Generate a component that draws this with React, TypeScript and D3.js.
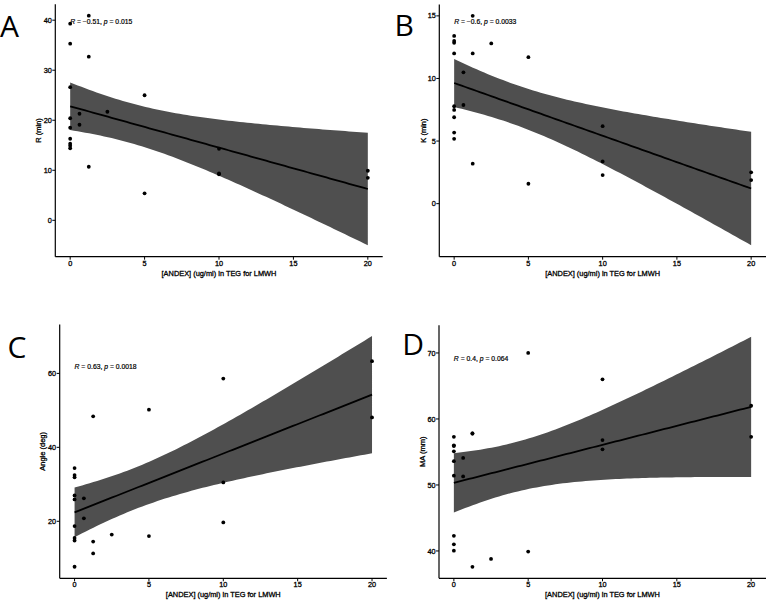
import React from 'react';
import * as d3 from 'd3';

// ---------- data ----------
const xTicks = [0, 5, 10, 15, 20];
const xTitle = '[ANDEX] (ug/ml) in TEG for LMWH';

const andexDose = [0, 0, 0, 0, 0, 0, 0, 0, 0, 0.625, 0.625, 1.25, 1.25, 1.25, 2.5, 5, 5, 10, 10, 10, 20, 20];

const rMin = [39.3, 35.3, 26.6, 20.4, 18.5, 16.3, 15.3, 14.9, 14.4, 21.3, 19.1, 40.9, 32.7, 10.7, 21.7, 25.0, 5.4, 14.3, 9.4, 9.2, 9.9, 8.5];
const kMin = [13.4, 13.0, 12.85, 12.0, 7.78, 7.49, 6.9, 5.68, 5.18, 10.49, 7.88, 15.0, 12.0, 3.19, 12.8, 11.7, 1.59, 6.19, 3.37, 2.28, 2.5, 1.88];
const angleDeg = [34.4, 32.5, 31.9, 27.0, 25.9, 18.7, 15.5, 14.8, 7.7, 26.2, 20.8, 48.4, 14.5, 11.3, 16.4, 50.2, 16.0, 58.6, 30.5, 19.7, 63.3, 48.1];
const maMm = [57.3, 56.0, 55.9, 55.1, 53.6, 51.4, 42.3, 41.0, 40.05, 54.1, 51.3, 57.8, 57.8, 37.6, 38.8, 70.0, 39.9, 66.0, 56.8, 55.4, 62.0, 57.3];

const panelLetters = ['A', 'B', 'C', 'D'];
const yTitles = ['R (min)', 'K (min)', 'Angle (deg)', 'MA (mm)'];
const yTickSets = [[0, 10, 20, 30, 40], [0, 5, 10, 15], [20, 40, 60], [40, 50, 60, 70]];
const corR = ['\u22120.51', '\u22120.6', '0.63', '0.4'];
const corP = ['0.015', '0.0033', '0.0018', '0.064'];
const seriesY = [rMin, kMin, angleDeg, maMm];

// ---------- layout ----------
const boxes = [
  { left: 55.3, right: 382.7, top: 4.2, bottom: 256.7, letterX: 0, letterY: 36.7, titleX: 38 },
  { left: 439.3, right: 766, top: 4.4, bottom: 256.7, letterX: 394.6, letterY: 36.2, titleX: 423.3 },
  { left: 59.7, right: 386.9, top: 324.5, bottom: 578.3, letterX: 7.5, letterY: 358, titleX: 42.7 },
  { left: 439, right: 766, top: 325.3, bottom: 578.3, letterX: 402.3, letterY: 355.3, titleX: 422.7 },
];

const T975 = 2.086; // Student t, 0.975 quantile, df = 20
const FONT = '"Liberation Sans", Arial, sans-serif';
const textStroke = { stroke: '#000', strokeWidth: 0.3 };

function fitLm(xs: number[], ys: number[]) {
  const n = xs.length;
  const mx = d3.mean(xs) as number;
  const my = d3.mean(ys) as number;
  let sxx = 0, sxy = 0;
  xs.forEach((x, i) => { sxx += (x - mx) ** 2; sxy += (x - mx) * (ys[i] - my); });
  const b = sxy / sxx;
  const a = my - b * mx;
  let sse = 0;
  xs.forEach((x, i) => { sse += (ys[i] - a - b * x) ** 2; });
  const s = Math.sqrt(sse / (n - 2));
  const [x0, x1] = d3.extent(xs) as [number, number];
  const band = d3.range(80).map((i) => {
    const x = x0 + ((x1 - x0) * i) / 79;
    const yh = a + b * x;
    const se = s * Math.sqrt(1 / n + (x - mx) ** 2 / sxx);
    return { x, y: yh, lo: yh - T975 * se, hi: yh + T975 * se };
  });
  return { a, b, band };
}

function Panel({ idx }: { idx: number }) {
  const box = boxes[idx];
  const ys = seriesY[idx];
  const xs = andexDose;
  const { band } = fitLm(xs, ys);

  const [xa, xb] = d3.extent(xs) as [number, number];
  const xe = (xb - xa) * 0.05;
  const ymin = Math.min(d3.min(ys) as number, d3.min(band, (d) => d.lo) as number);
  const ymax = Math.max(d3.max(ys) as number, d3.max(band, (d) => d.hi) as number);
  const ye = (ymax - ymin) * 0.05;

  const x = d3.scaleLinear().domain([xa - xe, xb + xe]).range([box.left, box.right]);
  const y = d3.scaleLinear().domain([ymin - ye, ymax + ye]).range([box.bottom, box.top]);

  const area = d3.area<{ x: number; lo: number; hi: number }>()
    .x((d) => x(d.x)).y0((d) => y(d.lo)).y1((d) => y(d.hi));
  const line = d3.line<{ x: number; y: number }>().x((d) => x(d.x)).y((d) => y(d.y));

  const cx = (box.left + box.right) / 2;
  const cy = (box.top + box.bottom) / 2;
  const maxY = d3.max(ys) as number;

  return (
    <g>
      <path d={area(band) || ''} fill="#4f4f4f" stroke="none" />
      <path d={line(band) || ''} fill="none" stroke="#000" strokeWidth={1.8} />
      {xs.map((xv, i) => (
        <circle key={i} cx={x(xv)} cy={y(ys[i])} r={1.9} fill="#000" />
      ))}
      {/* axes */}
      <line x1={box.left} x2={box.left} y1={box.top} y2={box.bottom} stroke="#000" strokeWidth={1.2} />
      <line x1={box.left} x2={box.right} y1={box.bottom} y2={box.bottom} stroke="#000" strokeWidth={1.2} />
      {xTicks.map((t) => (
        <g key={'x' + t}>
          <line x1={x(t)} x2={x(t)} y1={box.bottom} y2={box.bottom + 3} stroke="#000" strokeWidth={1} />
          <text x={x(t)} y={box.bottom + 9} textAnchor="middle" fontFamily={FONT} fontSize={7.3} fill="#000" {...textStroke}>{t}</text>
        </g>
      ))}
      {yTickSets[idx].map((t) => (
        <g key={'y' + t}>
          <line x1={box.left - 3} x2={box.left} y1={y(t)} y2={y(t)} stroke="#000" strokeWidth={1} />
          <text x={box.left - 3.5} y={y(t) + 2.6} textAnchor="end" fontFamily={FONT} fontSize={7.3} fill="#000" {...textStroke}>{t}</text>
        </g>
      ))}
      <text x={cx} y={box.bottom + 19} textAnchor="middle" fontFamily={FONT} fontSize={7.4} fill="#000" {...textStroke}>{xTitle}</text>
      <text transform={`translate(${box.titleX},${cy}) rotate(-90)`} textAnchor="middle" dominantBaseline="central" fontFamily={FONT} fontSize={7.5} fill="#000" {...textStroke}>{yTitles[idx]}</text>
      <text x={x(0)} y={y(maxY) + 8.3} fontFamily={FONT} fontSize={6.8} fill="#000" stroke="#000" strokeWidth={0.2}>
        <tspan fontStyle="italic">R</tspan>
        <tspan>{` = ${corR[idx]}, `}</tspan>
        <tspan fontStyle="italic">p</tspan>
        <tspan>{` = ${corP[idx]}`}</tspan>
      </text>
      <text x={box.letterX} y={box.letterY} fontFamily='"Open Sans", "Noto Sans", sans-serif' fontSize={30} fill="#000">{panelLetters[idx]}</text>
    </g>
  );
}

export default function App() {
  return (
    <svg width={770} height={602} style={{ position: 'absolute', left: 0, top: 0, display: 'block', background: '#fff' }}>
      <rect width={770} height={602} fill="#fff" />
      {[0, 1, 2, 3].map((i) => <Panel key={i} idx={i} />)}
    </svg>
  );
}
